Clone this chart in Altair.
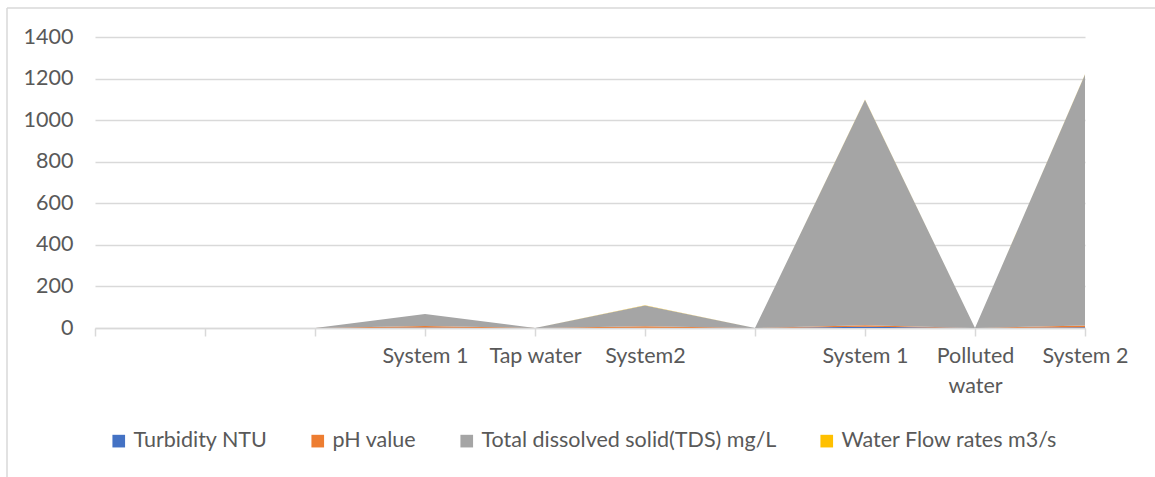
import altair as alt
import pandas as pd

# Category positions along the x axis (blank slots are empty categories)
categories = ["", "", "", "System 1", "Tap water", "System2", "", "System 1", "Polluted water", "System 2"]

series = ["Turbidity NTU", "pH value", "Total dissolved solid(TDS) mg/L", "Water Flow rates m3/s"]
colors = ["#4472C4", "#ED7D31", "#A5A5A5", "#FFC000"]

turbidity = [0, 0, 0, 2, 0, 1, 0, 6, 0, 4]
ph_value = [0, 0, 0, 7.2, 0, 7.4, 0, 7.6, 0, 7.8]
tds = [0, 0, 0, 58, 0, 100, 0, 1085, 0, 1208]
flow_rate = [0, 0, 0, 0.5, 0, 0.5, 0, 0.5, 0, 0.5]

rows = []
for s_idx, (name, vals) in enumerate(zip(series, [turbidity, ph_value, tds, flow_rate])):
    for i, v in enumerate(vals):
        rows.append({"idx": i, "series": name, "order": s_idx, "value": v})
df = pd.DataFrame(rows)

FONT = "Lato"
TEXT = "#595959"
GRID = "#D9D9D9"
FS = 21.5

def js_label(lbl):
    if len(lbl) > 10 and " " in lbl:
        parts = lbl.split(" ")
        return "[" + ",".join(f"'{p}'" for p in parts) + "]"
    return f"'{lbl}'"

label_expr = "[" + ",".join(js_label(c) for c in categories) + "][datum.value]"

W, H = 990, 291

area = alt.Chart(df).mark_area(opacity=1).encode(
    x=alt.X(
        "idx:Q",
        scale=alt.Scale(domain=[0, len(categories) - 1], nice=False, zero=False),
        axis=alt.Axis(
            title=None,
            values=list(range(len(categories))),
            labelExpr=label_expr,
            grid=False,
            domainColor=GRID,
            domainWidth=1.5,
            tickColor=GRID,
            tickSize=8,
            tickWidth=1.5,
            labelColor=TEXT,
            labelFont=FONT,
            labelFontSize=FS,
            labelPadding=9,
            labelLineHeight=30,
            labelBaseline="top",
            labelOverlap=False,
            labelFlush=False,
        ),
    ),
    y=alt.Y(
        "value:Q",
        stack="zero",
        scale=alt.Scale(domain=[0, 1400], nice=False),
        axis=alt.Axis(
            title=None,
            values=[0, 200, 400, 600, 800, 1000, 1200, 1400],
            format="d",
            grid=True,
            gridColor=GRID,
            gridWidth=1.5,
            domain=False,
            ticks=False,
            labelColor=TEXT,
            labelFont=FONT,
            labelFontSize=FS,
            labelPadding=22,
        ),
    ),
    color=alt.Color(
        "series:N",
        scale=alt.Scale(domain=series, range=colors),
        legend=alt.Legend(
            title=None,
            orient="none",
            direction="horizontal",
            legendX=13,
            legendY=393,
            columns=4,
            columnPadding=39,
            symbolType="square",
            symbolSize=160,
            symbolStrokeWidth=0,
            symbolOpacity=1,
            labelFont=FONT,
            labelFontSize=FS,
            labelColor=TEXT,
            labelOffset=4,
            labelLimit=0,
        ),
    ),
    order=alt.Order("order:Q"),
)

# Thin frame around the chart area
frame_left = alt.Chart(pd.DataFrame({"k": [0]})).mark_rule(color=GRID, strokeWidth=1.5).encode(
    x=alt.value(-88), y=alt.value(-29), y2=alt.value(H + 150)
)
frame_top = alt.Chart(pd.DataFrame({"k": [0]})).mark_rule(color=GRID, strokeWidth=1.5).encode(
    x=alt.value(-88), x2=alt.value(W + 80), y=alt.value(-29)
)

chart = alt.layer(area, frame_left, frame_top).properties(
    width=W,
    height=H,
    autosize=alt.AutoSizeParams(type="none"),
    padding={"left": 95, "top": 37, "right": 70, "bottom": 149},
    background="white",
).configure_view(stroke=None)

chart.save("out.html", embed_options={"renderer": "svg", "actions": False})
